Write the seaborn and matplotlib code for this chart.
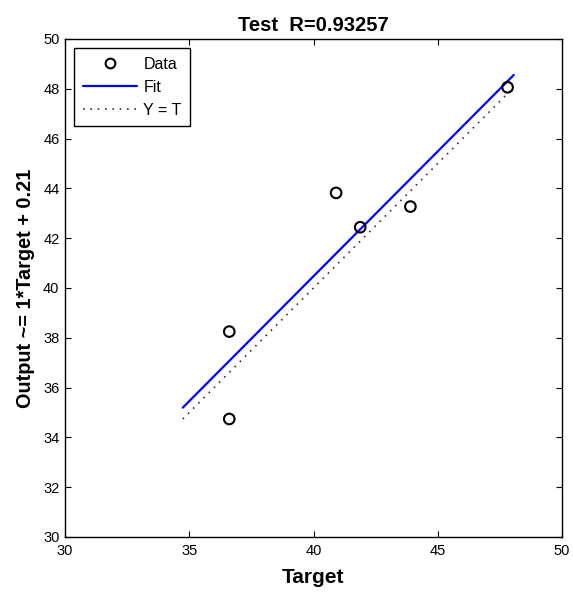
import numpy as np
import pandas as pd
import matplotlib
matplotlib.use("Agg")
import matplotlib.pyplot as plt
from matplotlib.lines import Line2D
import seaborn as sns

# Data
target = [36.61, 36.61, 40.91, 41.88, 43.90, 47.81]
output = [38.25, 34.74, 43.82, 42.44, 43.27, 48.06]
x_ticks = [30, 35, 40, 45, 50]
y_ticks = [30, 32, 34, 36, 38, 40, 42, 44, 46, 48, 50]
title_text = "Test  R=0.93257"
xlabel_text = "Target"
ylabel_text = "Output ~= 1*Target + 0.21"
legend_labels = ["Data", "Fit", "Y = T"]

sns.set_theme(style="white")
plt.rcParams["font.family"] = ["Liberation Sans", "DejaVu Sans"]
plt.rcParams["text.color"] = "black"
plt.rcParams["axes.labelcolor"] = "black"
plt.rcParams["xtick.color"] = "black"
plt.rcParams["ytick.color"] = "black"

df = pd.DataFrame({"Target": target, "Output": output})

# fit line and identity line over the data extent
lo = min(min(target), min(output))
hi = max(max(target), max(output))
slope, intercept = np.polyfit(target, output, 1)
line_x = np.array([lo, hi])
fit_df = pd.DataFrame({"x": line_x, "y": slope * line_x + intercept})
id_df = pd.DataFrame({"x": line_x, "y": line_x})

fig = plt.figure(figsize=(5.73, 5.92), dpi=100)
ax = fig.add_axes([65 / 573, 1 - 537 / 592, 497 / 573, 498 / 592])

sns.lineplot(data=fit_df, x="x", y="y", ax=ax, color="#0000ff", lw=1.6,
             sort=False, estimator=None)
sns.lineplot(data=id_df, x="x", y="y", ax=ax, color="#333333", lw=1.2,
             linestyle=(0, (1, 3.4)), sort=False, estimator=None)
sns.scatterplot(data=df, x="Target", y="Output", ax=ax, s=58,
                facecolor="none", edgecolor="black", linewidth=1.5, zorder=5)

ax.set_xlim(30, 50)
ax.set_ylim(30, 50)
ax.set_xticks(x_ticks)
ax.set_yticks(y_ticks)
ax.tick_params(direction="in", length=4, width=0.8, labelsize=10.5,
               top=True, right=True, bottom=True, left=True,
               labelcolor="black", color="black", pad=4)
ax.tick_params(axis="x", pad=5)
for sp in ax.spines.values():
    sp.set_color("black")
    sp.set_linewidth(1.0)

ax.set_title(title_text, fontsize=14.5, fontweight="bold", pad=6,
             color="black")
ax.set_xlabel(xlabel_text, fontsize=15, fontweight="bold", labelpad=7,
              color="black")
ax.set_ylabel(ylabel_text, fontsize=14.3, fontweight="bold", labelpad=6,
              color="black")

handles = [
    Line2D([], [], marker="o", ls="none", mfc="none", mec="black", ms=7, mew=1.5),
    Line2D([], [], color="#0000ff", lw=1.6),
    Line2D([], [], color="#333333", lw=1.2, ls=(0, (1, 3.4))),
]
leg = ax.legend(handles, legend_labels, loc="upper left", fontsize=11.5,
                frameon=True, fancybox=False, edgecolor="black",
                handlelength=3.4, handletextpad=0.4, labelspacing=0.5,
                borderaxespad=0.55, borderpad=0.55)
leg.get_frame().set_linewidth(1.0)
leg.get_frame().set_alpha(1)
for t in leg.get_texts():
    t.set_color("black")

fig.savefig("out.png", dpi=100)
